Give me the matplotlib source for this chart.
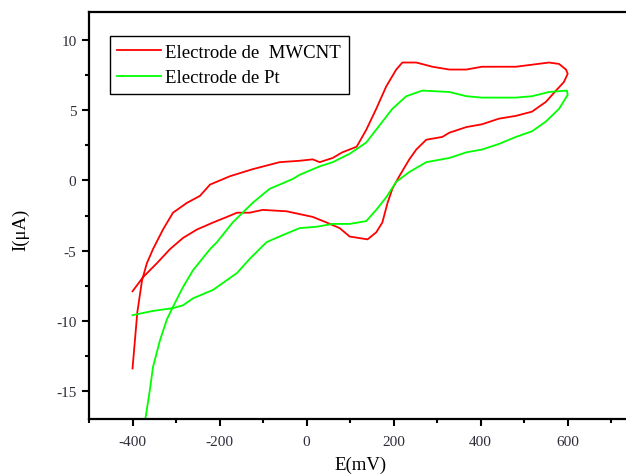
import matplotlib
matplotlib.use("Agg")
import matplotlib.pyplot as plt
from matplotlib.ticker import MultipleLocator

plt.rcParams['font.family'] = ['Liberation Serif', 'DejaVu Serif']
plt.rcParams['axes.unicode_minus'] = False

# Electrode de MWCNT : anodic sweep then cathodic sweep (E in mV, I in uA)
mwcnt_e = [-400, -389, -378, -367, -353, -330, -307, -275, -245, -222, -176, -124, -62, -16,
           14, 30, 60, 82, 115, 137, 160, 183, 206, 220, 252, 289, 328, 367, 403, 442, 481,
           557, 580, 596, 600,
           591, 573, 550, 518, 481, 442, 403, 367, 328, 312, 275, 252, 236, 213, 197, 186,
           174, 160, 140, 99, 76, 46, 14, -16, -46, -101, -131, -160, -183, -215, -252,
           -284, -314, -344, -376, -400]
mwcnt_i = [-13.4, -9.4, -7.1, -5.9, -4.9, -3.5, -2.3, -1.6, -1.1, -0.3, 0.3, 0.8, 1.3, 1.4,
           1.5, 1.3, 1.6, 2.0, 2.4, 3.6, 5.1, 6.7, 7.9, 8.4, 8.4, 8.1, 7.9, 7.9, 8.1, 8.1, 8.1,
           8.4, 8.3, 7.9, 7.6,
           7.0, 6.4, 5.6, 4.9, 4.6, 4.4, 4.0, 3.8, 3.4, 3.1, 2.9, 2.2, 1.5, 0.3, -0.6, -1.6,
           -3.0, -3.7, -4.2, -4.0, -3.4, -3.0, -2.6, -2.4, -2.2, -2.1, -2.3, -2.3, -2.6, -3.0,
           -3.5, -4.1, -4.9, -5.9, -6.9, -7.9]

# Electrode de Pt
pt_e = [-371, -360, -353, -337, -321, -307, -284, -261, -222, -206, -170, -124, -85, -32, -16,
        30, 60, 99, 137, 167, 197, 229, 266, 328, 367, 403, 481, 518, 557, 598, 600,
        580, 550, 518, 481, 442, 403, 367, 328, 275, 236, 206, 183, 160, 137, 99, 60, 23,
        -16, -55, -92, -131, -160, -215, -261, -284, -307, -353, -400]
pt_i = [-17.1, -14.9, -13.3, -11.4, -9.9, -9.0, -7.6, -6.4, -4.9, -4.4, -3.0, -1.6, -0.6, 0.1, 0.4,
        1.0, 1.3, 1.9, 2.7, 3.9, 5.1, 6.0, 6.4, 6.3, 6.0, 5.9, 5.9, 6.0, 6.3, 6.4, 6.1,
        5.1, 4.2, 3.5, 3.1, 2.6, 2.2, 2.0, 1.6, 1.3, 0.6, -0.1, -1.2, -2.1, -2.9, -3.1, -3.1, -3.3,
        -3.4, -3.9, -4.4, -5.6, -6.6, -7.8, -8.4, -8.9, -9.1, -9.3, -9.6]

fig = plt.figure(figsize=(6.26, 4.77), dpi=100)
# axes run past the right edge of the picture, like the cropped original
ax = fig.add_axes([89 / 626, 1 - 420 / 477, 544 / 626, 407 / 477])

ax.plot(mwcnt_e, mwcnt_i, color='#ff0000', lw=1.3, label='Electrode de  MWCNT')
ax.plot(pt_e, pt_i, color='#00ff00', lw=1.3, label='Electrode de Pt')

ax.set_xlim(-500, 750)
ax.set_ylim(-17, 12)
ax.xaxis.set_major_locator(MultipleLocator(200))
ax.xaxis.set_minor_locator(MultipleLocator(100))
ax.yaxis.set_major_locator(MultipleLocator(5))
ax.yaxis.set_minor_locator(MultipleLocator(2.5))

for s in ax.spines.values():
    s.set_linewidth(1.6)
ax.spines['right'].set_visible(False)
ax.tick_params(which='major', direction='out', length=5, width=1.5, labelsize=11,
               labelcolor='#2e2e3a', pad=4)
ax.tick_params(axis='x', which='major', pad=6.5)
ax.tick_params(which='minor', direction='out', length=3, width=1.5)

ax.set_xlabel('E(mV)', fontsize=13.5)
ax.set_ylabel('I(μA)', fontsize=13.5)
ax.xaxis.set_label_coords((361 - 89) / 544, -(457 - 420) / 407)
ax.yaxis.set_label_coords(-(89 - 29) / 544, 1 - (230 - 13) / 407)

leg = ax.legend(loc='upper left', bbox_to_anchor=(21 / 544, 1 - 24 / 407), borderaxespad=0,
                fontsize=13.5, fancybox=False, edgecolor='black', framealpha=1,
                handlelength=2.3, handletextpad=0.25, labelspacing=0.45, borderpad=0.4)
leg.get_frame().set_linewidth(1.0)

fig.savefig('out.png', dpi=100)
